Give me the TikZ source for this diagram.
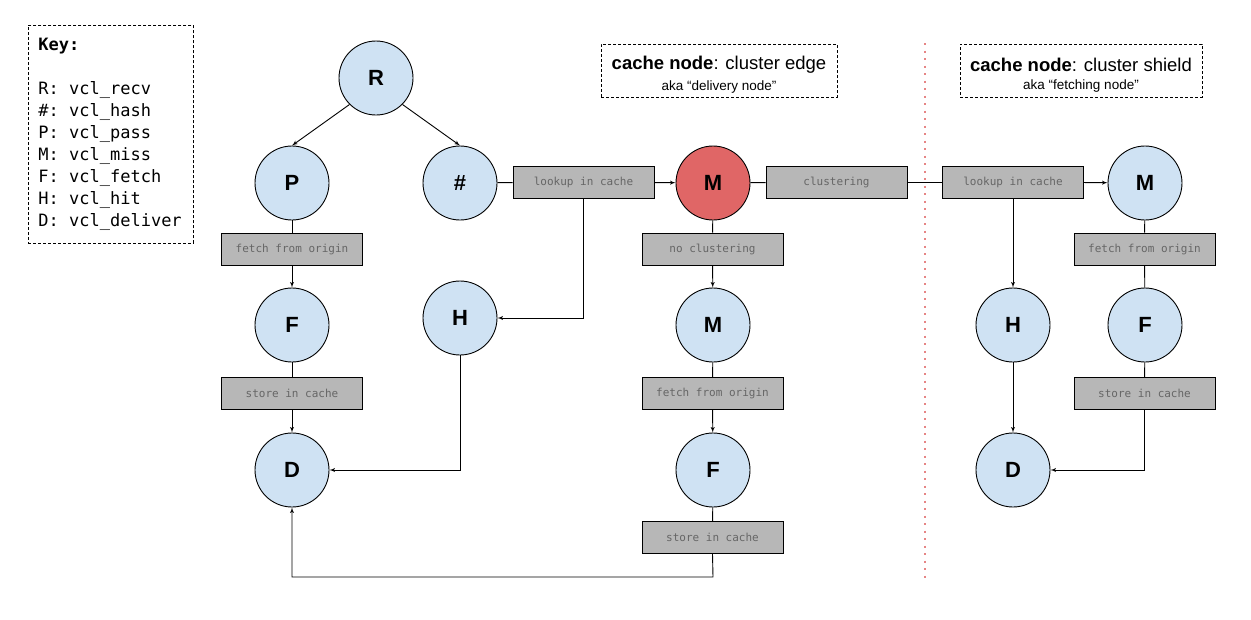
\documentclass[tikz,border=0pt]{standalone}
\usepackage{fontspec}
\setmainfont{Liberation Sans}
\setmonofont{DejaVu Sans Mono}
\usepackage{tikz}
\usetikzlibrary{arrows}
\usetikzlibrary{positioning}
\definecolor{stateblue}{HTML}{CFE2F3}
\definecolor{missred}{HTML}{E06666}
\definecolor{boxgray}{HTML}{B7B7B7}
\definecolor{labelgray}{HTML}{666666}
\newcommand{\kgap}{\hspace{0.602em}}
\tikzset{state/.style = {draw, circle, fill=stateblue, minimum size=74pt, inner sep=0, font=\fontsize{22}{22}\selectfont\bfseries}}
\tikzset{action/.style = {draw, fill=boxgray, minimum width=141pt, minimum height=32pt, inner sep=0, text=labelgray, font=\fontsize{11}{11}\selectfont\ttfamily}}
\tikzset{note/.style = {draw, dash pattern=on 3pt off 2pt, inner sep=0, align=center}}

\begin{document}
\begin{tikzpicture}[x=1pt, y=-1pt, line width=0.9pt]
    \useasboundingbox (0, 0) rectangle (1251, 619);
    \node[note, anchor=north west, minimum width=165pt, minimum height=218pt, text width=145pt, align=left,
          font=\fontsize{17}{22}\selectfont\ttfamily] (key) at (28, 25)
          {\textbf{Key:}\\[22pt] R:\kgap vcl\_recv\\ \#:\kgap vcl\_hash\\ P:\kgap vcl\_pass\\ M:\kgap vcl\_miss\\
           F:\kgap vcl\_fetch\\ H:\kgap vcl\_hit\\ D:\kgap vcl\_deliver};
    \node[note, minimum width=236pt, minimum height=53pt] (edgenote) at (719, 70.5)
          {\fontsize{18.5}{20}\selectfont\rule{0pt}{22pt}\textbf{cache node}: cluster edge\\[6pt]
           \fontsize{13.5}{15}\selectfont aka “delivery node”};
    \node[note, minimum width=242pt, minimum height=53pt] (shieldnote) at (1081, 70.5)
          {\fontsize{18.5}{20}\selectfont\rule{0pt}{22pt}\textbf{cache node}: cluster shield\\[6pt]
           \fontsize{13.5}{15}\selectfont aka “fetching node”};
    \draw[missred!80, line width=2pt, dash pattern=on 2pt off 5.5pt] (925, 43) -- (925, 578);

    % edge node
    \node[state] (R) at (376, 78) {R};
    \node[state] (P) at (292, 183) {P};
    \node[state] (hash) at (460, 183) {\#};
    \node[state, fill=missred] (Mred) at (713, 183) {M};
    \node[state] (H) at (460, 318) {H};
    \node[state] (F) at (292, 325) {F};
    \node[state] (D) at (292, 470) {D};
    \node[state] (M) at (713, 325) {M};
    \node[state] (Fm) at (713, 470) {F};
    \node[action] (fetchP) at (292, 249) {fetch from origin};
    \node[action] (storeP) at (292, 393.5) {store in cache};
    \node[action] (lookE) at (583.5, 182) {lookup in cache};
    \node[action] (noclus) at (712.5, 249) {no clustering};
    \node[action] (fetchM) at (712.5, 393.5) {fetch from origin};
    \node[action] (storeM) at (712.5, 537.5) {store in cache};
    \node[action] (clus) at (836.5, 182) {clustering};
    \coordinate (back) at (713, 577);

    % shield node
    \node[state] (Ms) at (1145, 183) {M};
    \node[state] (Hs) at (1013, 325) {H};
    \node[state] (Fs) at (1145, 325) {F};
    \node[state] (Ds) at (1013, 470) {D};
    \node[action] (lookS) at (1013, 182) {lookup in cache};
    \node[action] (fetchS) at (1144.5, 249) {fetch from origin};
    \node[action] (storeS) at (1144.5, 393.5) {store in cache};

    \draw[-latex'] (R.south west) -- (P.north);
    \draw[-latex'] (R.south east) -- (hash.north);
    \draw (P) -- (fetchP);
    \draw[-latex'] (fetchP) -- (F);
    \draw (F) -- (storeP);
    \draw[-latex'] (storeP) -- (D);
    \draw (hash) -- (lookE);
    \draw[-latex'] (lookE) -- (Mred);
    \draw[-latex'] (lookE.south) |- (H.east);
    \draw[-latex'] (H.south) |- (D.east);
    \draw (Mred) -- (noclus);
    \draw[-latex'] (noclus) -- (M);
    \draw (M) -- (fetchM);
    \draw[-latex'] (fetchM) -- (Fm);
    \draw (Fm) -- (storeM);
    \draw[-latex'] (storeM.south) -- (back) -| (D.south);
    \draw (Mred) -- (clus);
    \draw (clus) -- (lookS);
    \draw[-latex'] (lookS) -- (Ms);
    \draw[-latex'] (lookS) -- (Hs);
    \draw (Ms) -- (fetchS);
    \draw (fetchS) -- (Fs);
    \draw (Fs) -- (storeS);
    \draw[-latex'] (storeS.south) |- (Ds.east);
    \draw[-latex'] (Hs) -- (Ds);
\end{tikzpicture}
\end{document}
